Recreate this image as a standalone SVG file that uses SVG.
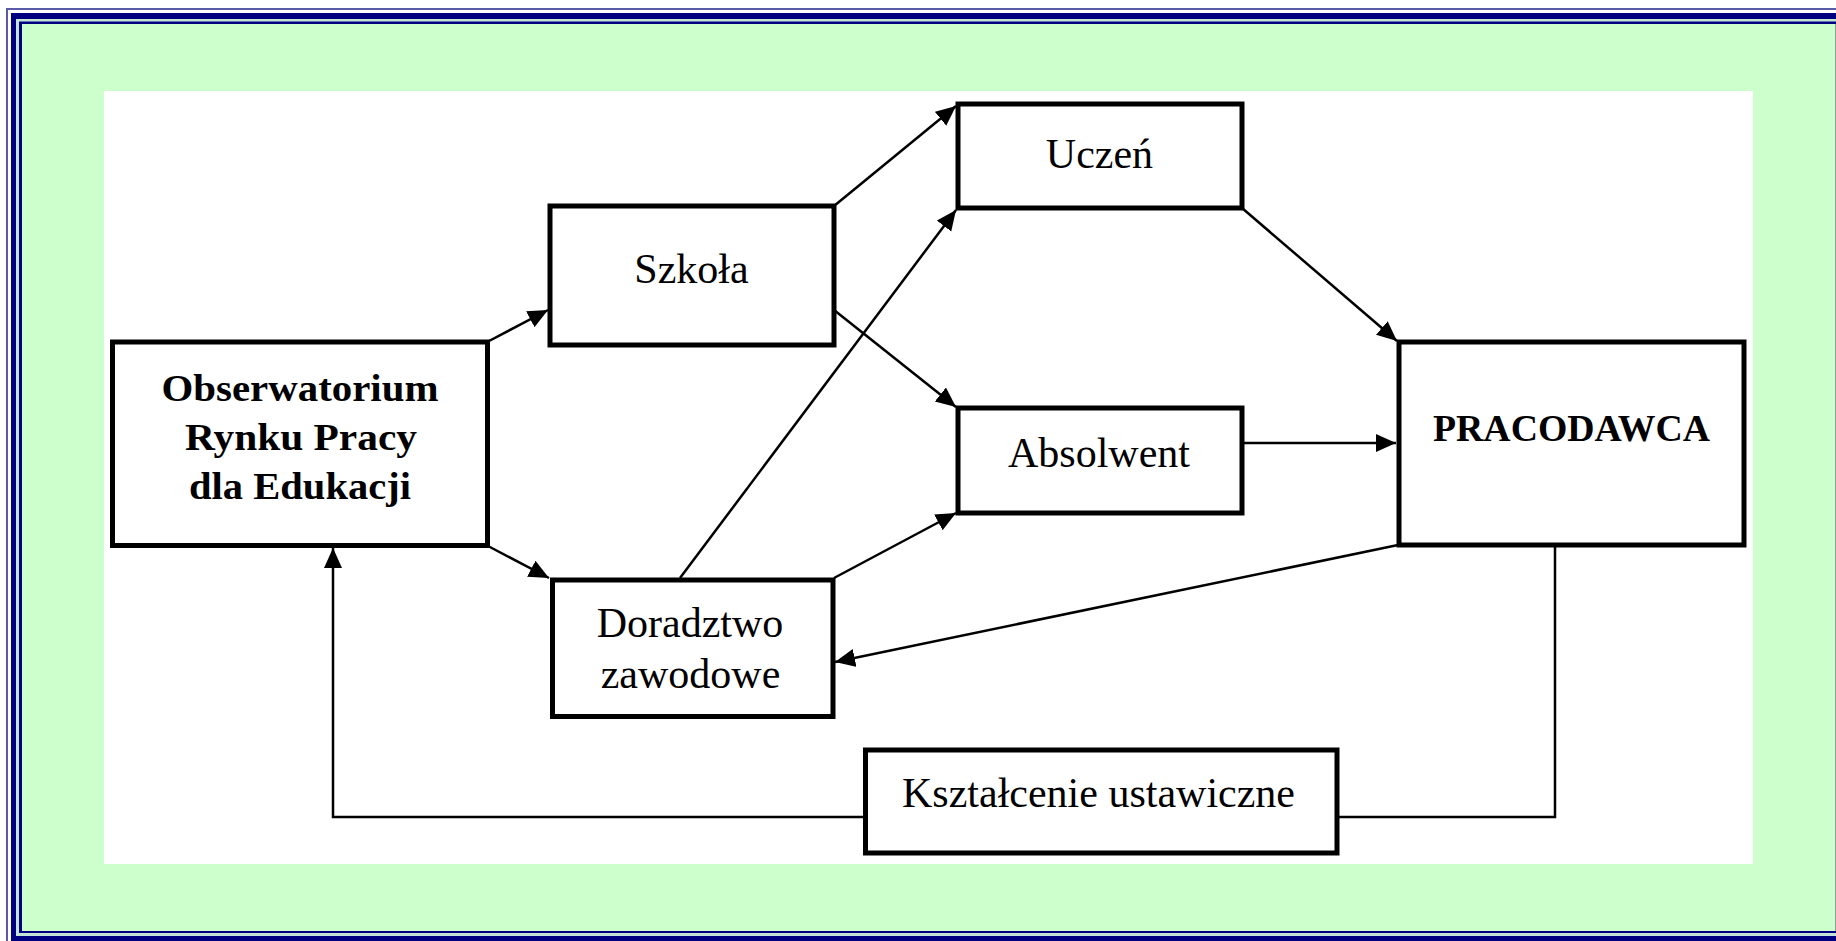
<svg xmlns="http://www.w3.org/2000/svg" width="1836" height="941" viewBox="0 0 1836 941">
<style>
.box{fill:#ffffff;stroke:#000000;stroke-width:5}
.con{fill:none;stroke:#000000;stroke-width:2.5}
.t{font-family:"Liberation Serif","Times New Roman",serif;font-size:42px;fill:#000000;text-anchor:middle}
.b{font-family:"Liberation Serif","Times New Roman",serif;font-weight:bold;fill:#000000;text-anchor:middle}
</style>
<defs>
<marker id="ah" markerUnits="userSpaceOnUse" markerWidth="22" markerHeight="20" refX="20" refY="9" orient="auto">
<path d="M0,0 L20,9 L0,18 Z" fill="#000000"/>
</marker>
</defs>
<g id="frame">
<rect x="0" y="0" width="1836" height="941" fill="#ffffff"/>
<rect x="6" y="8" width="1830" height="940" fill="#5a5aa8"/>
<rect x="8" y="10" width="1828" height="940" fill="#ffffff"/>
<rect x="11" y="13" width="1825" height="940" fill="#000080"/>
<rect x="16" y="19" width="1820" height="917" fill="#c4e4d8"/>
<rect x="19" y="21.5" width="1817" height="911.5" fill="#000080"/>
<rect x="22" y="24" width="1813" height="907" fill="#ccffcc"/>
<line x1="1835.5" y1="24" x2="1835.5" y2="931" stroke="#999999" stroke-width="1"/>
<rect x="104" y="91" width="1649" height="773" fill="#ffffff"/>
</g>
<g id="connectors">
<path class="con" d="M489,341 L548,310" marker-end="url(#ah)"/>
<path class="con" d="M488,546 L549,578" marker-end="url(#ah)"/>
<path class="con" d="M834,206 L956,106" marker-end="url(#ah)"/>
<path class="con" d="M834,310 L956,407" marker-end="url(#ah)"/>
<path class="con" d="M680,578 L956,210" marker-end="url(#ah)"/>
<path class="con" d="M834,578 L956,513" marker-end="url(#ah)"/>
<path class="con" d="M1242,208 L1397,341" marker-end="url(#ah)"/>
<path class="con" d="M1244,443 L1396,443" marker-end="url(#ah)"/>
<path class="con" d="M1398,545 L835,662" marker-end="url(#ah)"/>
<path class="con" d="M1555,545 L1555,817 L1337,817"/>
<path class="con" d="M865,817 L333,817 L333,548" marker-end="url(#ah)"/>
</g>
<g id="obserwatorium">
<rect class="box" x="112.5" y="342" width="375" height="203.5"/>
<text class="b" font-size="37" x="300" y="401" textLength="277" lengthAdjust="spacingAndGlyphs">Obserwatorium</text>
<text class="b" font-size="37" x="301" y="450" textLength="232" lengthAdjust="spacingAndGlyphs">Rynku Pracy</text>
<text class="b" font-size="37" x="300" y="499" textLength="222" lengthAdjust="spacingAndGlyphs">dla Edukacji</text>
</g>
<g id="szkola">
<rect class="box" x="550" y="206" width="284" height="139"/>
<text class="t" x="691.5" y="283">Szkoła</text>
</g>
<g id="uczen">
<rect class="box" x="958" y="104" width="284" height="104"/>
<text class="t" x="1099.5" y="168">Uczeń</text>
</g>
<g id="absolwent">
<rect class="box" x="958" y="408" width="284" height="105"/>
<text class="t" x="1099" y="467">Absolwent</text>
</g>
<g id="doradztwo">
<rect class="box" x="552.5" y="580" width="280.5" height="136.5"/>
<text class="t" x="690" y="637">Doradztwo</text>
<text class="t" x="690.5" y="688">zawodowe</text>
</g>
<g id="pracodawca">
<rect class="box" x="1399" y="342" width="345" height="203"/>
<text class="b" font-size="37" x="1571.5" y="441" textLength="277" lengthAdjust="spacingAndGlyphs">PRACODAWCA</text>
</g>
<g id="ksztalcenie">
<rect class="box" x="865.5" y="750" width="471.5" height="103"/>
<text class="t" x="1098.5" y="807">Kształcenie ustawiczne</text>
</g>
</svg>
